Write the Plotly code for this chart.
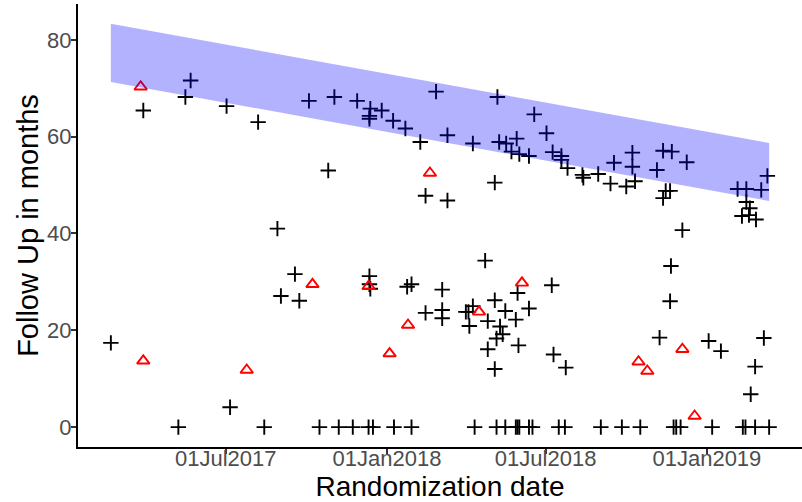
import plotly.graph_objects as go

# Black "+" observations (randomization date, follow-up months)
plus_dates = [
    '2017-02-20','2017-03-29','2017-05-08','2017-05-16','2017-05-22','2017-07-02','2017-07-06','2017-08-07','2017-08-14','2017-08-29',
    '2017-09-02','2017-09-18','2017-09-23','2017-10-04','2017-10-16','2017-10-26','2017-11-02','2017-11-07','2017-11-23','2017-11-28',
    '2017-12-11','2017-12-13','2017-12-12','2017-12-12','2017-12-12','2017-12-12','2017-12-13','2017-12-16','2017-12-26','2018-01-08',
    '2018-01-09','2018-01-22','2018-01-24','2018-01-29','2018-01-29','2018-02-08','2018-02-14','2018-02-14','2018-02-26','2018-03-05',
    '2018-03-05','2018-03-05','2018-03-11','2018-03-11','2018-04-01','2018-04-04','2018-04-05','2018-04-09','2018-04-09','2018-04-11',
    '2018-04-23','2018-04-26','2018-04-26','2018-05-04','2018-05-04','2018-05-04','2018-05-06','2018-05-06','2018-05-07','2018-05-09',
    '2018-05-10','2018-05-13','2018-05-16','2018-05-16','2018-05-17','2018-05-23','2018-05-28','2018-05-28','2018-05-29','2018-05-30',
    '2018-05-30','2018-05-31','2018-06-01','2018-06-01','2018-06-12','2018-06-12','2018-06-12','2018-06-16','2018-06-18','2018-07-02',
    '2018-07-08','2018-07-09','2018-07-10','2018-07-16','2018-07-19','2018-07-19','2018-07-23','2018-07-24','2018-07-26','2018-08-12',
    '2018-08-13','2018-08-30','2018-09-02','2018-09-13','2018-09-17','2018-09-26','2018-10-01','2018-10-08','2018-10-08','2018-10-11',
    '2018-10-17','2018-11-05','2018-11-08','2018-11-12','2018-11-12','2018-11-15','2018-11-20','2018-11-20','2018-11-21','2018-11-22',
    '2018-11-24','2018-11-27','2018-12-02','2018-12-04','2018-12-09','2019-01-03','2019-01-07','2019-01-17','2019-02-05','2019-02-10',
    '2019-02-11','2019-02-14','2019-02-15','2019-02-15','2019-02-18','2019-02-19','2019-02-20','2019-02-25','2019-02-25','2019-02-26',
    '2019-03-04','2019-03-07','2019-03-11','2019-03-13']
plus_months = [
    17.4,65.4,0,68.2,71.6,66.3,4.1,63.0,0,41.0,
    27.1,31.6,26.1,67.4,0,53.0,68.2,0,0,67.4,
    0,65.8,64.3,63.7,31.2,29.5,28.6,0,65.4,63.3,
    0,61.7,29.0,29.5,0,58.9,47.8,23.6,69.3,28.4,
    24.2,22.5,60.3,46.8,23.8,23.8,20.9,58.6,25.0,0,
    34.4,21.9,16.1,50.5,26.2,12.0,18.3,0,68.2,58.9,
    20.8,19.2,24.0,0,58.6,56.9,22.2,0,59.6,27.7,
    0,16.9,56.4,0,56.0,24.5,0,0,64.6,60.7,
    29.3,56.8,15.0,0,56.0,55.2,0,12.3,53.5,52.1,
    51.5,52.3,0,50.3,54.6,0,49.7,56.7,53.8,50.8,
    0,53.1,18.5,57.1,47.3,48.8,48.8,26.0,33.3,56.9,
    0,0,0,40.7,54.7,17.8,0,15.7,49.2,43.6,
    0,0,49.2,46.5,43.8,45.2,6.8,12.5,0,42.9,
    49.0,18.4,51.9,0]

# Red open triangles
tri_dates = ['2017-03-26','2017-03-29','2017-07-25','2017-10-08','2017-12-11','2018-01-04','2018-01-25',
             '2018-02-19','2018-04-16','2018-06-04','2018-10-15','2018-10-25','2018-12-04','2018-12-18']
tri_months = [70.3,13.7,11.8,29.5,29.1,15.2,21.1,52.5,23.8,29.8,13.5,11.6,16.1,2.3]

# Band (potential follow-up range)
band_dates = ['2017-02-20', '2019-03-13']
band_upper = [83.3, 58.7]
band_lower = [71.3, 46.7]

x_tickvals = ['2017-07-01', '2018-01-01', '2018-07-01', '2019-01-01']
x_ticktext = ['01Jul2017', '01Jan2018', '01Jul2018', '01Jan2019']
y_tickvals = [0, 20, 40, 60, 80]

FONT = 'Liberation Sans, Arial, sans-serif'

fig = go.Figure()
fig.add_trace(go.Scatter(
    x=plus_dates, y=plus_months, mode='markers',
    marker=dict(symbol='cross-thin-open', size=11, color='black',
                line=dict(color='black', width=1.9)),
    showlegend=False))
fig.add_trace(go.Scatter(
    x=tri_dates, y=tri_months, mode='markers',
    marker=dict(symbol='triangle-up-open', size=11, color='red',
                line=dict(color='red', width=1.9)),
    showlegend=False))
poly_x = band_dates + band_dates[::-1] + band_dates[:1]
poly_y = band_upper + band_lower[::-1] + band_upper[:1]
fig.add_trace(go.Scatter(
    x=poly_x, y=poly_y, mode='lines', fill='toself',
    fillcolor='rgba(0,0,255,0.3)', line=dict(width=0, color='rgba(0,0,0,0)'),
    hoverinfo='skip', showlegend=False))

fig.update_layout(
    width=802, height=502,
    margin=dict(l=78, r=0, t=4, b=55),
    paper_bgcolor='white', plot_bgcolor='white',
    font=dict(family=FONT),
    xaxis=dict(
        range=['2017-01-13 12:00', '2019-04-19 12:00'],
        tickvals=x_tickvals, ticktext=x_ticktext,
        showgrid=False, zeroline=False,
        showline=True, linecolor='black', linewidth=2,
        ticks='outside', ticklen=5, tickwidth=1.5, tickcolor='#333333',
        ticklabelstandoff=-14,
        tickfont=dict(size=22, color='#4d4d4d', family=FONT),
        title=dict(text='Randomization date', font=dict(size=28, color='black', family=FONT), standoff=10),
        automargin=False),
    yaxis=dict(
        range=[-4.1, 87.4],
        tickvals=y_tickvals,
        showgrid=False, zeroline=False,
        showline=True, linecolor='black', linewidth=2,
        ticks='outside', ticklen=5, tickwidth=1.5, tickcolor='#333333',
        ticklabelstandoff=-5,
        tickfont=dict(size=22, color='#4d4d4d', family=FONT),
        title=dict(text='Follow Up in months', font=dict(size=29, color='black', family=FONT), standoff=0),
        automargin=False),
)

fig.write_html('out.html')
